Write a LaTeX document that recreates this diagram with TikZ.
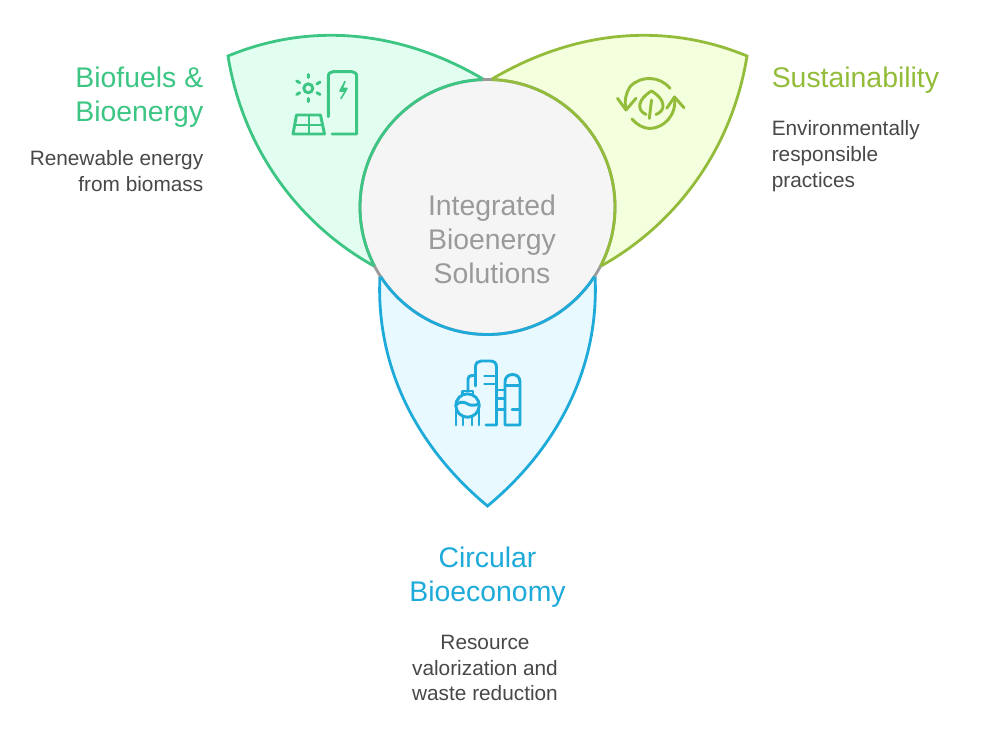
\documentclass[tikz,border=0pt]{standalone}
\usepackage{fontspec}
\setmainfont{Liberation Sans}
\definecolor{gs}{HTML}{3CC583}\definecolor{gf}{HTML}{E2FEF0}
\definecolor{ys}{HTML}{92BC39}\definecolor{yf}{HTML}{F4FFDE}
\definecolor{bs}{HTML}{1EABDA}\definecolor{bf}{HTML}{E8F9FF}
\definecolor{cs}{HTML}{9A9A9A}\definecolor{cf}{HTML}{F5F5F5}
\definecolor{dt}{HTML}{484848}
\tikzset{
 petal/.style={line width=2.1pt,line join=miter},
 icon/.style={line width=2.2pt,line cap=round,line join=round},
 ttl/.style={inner sep=0pt,font=\fontsize{21.3}{25.5}\selectfont},
 dsc/.style={inner sep=0pt,text=dt,font=\fontsize{15.6}{19.2}\selectfont},
}
\begin{document}
\begin{tikzpicture}[x=0.75pt,y=-0.75pt]
\useasboundingbox (0,0) rectangle (984,739);
\fill[white] (0,0) rectangle (984,739);
% petals
\draw[petal,draw=gs,fill=gf] (228,56) .. controls (310,22) and (400,30) .. (483,79) -- (400,170) -- (374,266) .. controls (300,225) and (243,150) .. (228,56) -- cycle;
\draw[petal,draw=ys,fill=yf] (747,56) .. controls (665,22) and (575,30) .. (492,79) -- (575,170) -- (601,266) .. controls (675,225) and (732,150) .. (747,56) -- cycle;
\draw[petal,draw=bs,fill=bf] (380,275) .. controls (375,370) and (420,450) .. (487.5,506) .. controls (555,450) and (600,370) .. (595,275) -- (487,300) -- cycle;
% centre
\node[circle,minimum size=191.25pt,inner sep=0pt,draw=cs,fill=cf,line width=2.1pt] (core) at (487.5,207) {};
\begin{scope}
\clip (487.5,207) -- (481.5,50) -- (340,50) -- (340,284) -- cycle;
\draw[petal,draw=gs] (487.5,207) circle[radius=127.5];
\end{scope}
\begin{scope}
\clip (487.5,207) -- (492.5,50) -- (635,50) -- (635,284) -- cycle;
\draw[petal,draw=ys] (487.5,207) circle[radius=127.5];
\end{scope}
\begin{scope}
\clip (487.5,207) -- (360,290) -- (360,350) -- (615,350) -- (615,290) -- cycle;
\draw[petal,draw=bs] (487.5,207) circle[radius=127.5];
\end{scope}
% texts
\node[ttl,text=cs,align=center,anchor=north] (coretext) at (492,194.5) {Integrated\\Bioenergy\\Solutions};
\node[ttl,text=gs,align=right,anchor=north east] (t1) at (203.5,67) {Biofuels \&\\Bioenergy};
\node[dsc,align=right,anchor=north east] (d1) at (203.5,150.5) {Renewable energy\\from biomass};
\node[ttl,text=ys,align=left,anchor=north west] (t2) at (771.5,67) {Sustainability};
\node[dsc,align=left,anchor=north west] (d2) at (771.5,120.5) {Environmentally\\responsible\\practices};
\node[ttl,text=bs,align=center,anchor=north] (t3) at (487.5,546.5) {Circular\\Bioeconomy};
\node[dsc,align=center,anchor=north] (d3) at (485,635) {Resource\\valorization and\\waste reduction};
% icon 1
\begin{scope}[icon,draw=gs]
\draw (308.3,88.3) circle[radius=4.5];
\draw (308.3,74.5)--(308.3,77.5) (308.3,98.5)--(308.3,101.7)
 (296.7,81)--(299.7,82.7) (316.9,84)--(320,82)
 (296.7,94.5)--(299.7,92.7) (316.9,92.7)--(320,94.5);
\draw (328.3,116.7)--(328.3,77) .. controls (328.3,73.5) and (330,71.7) .. (333,71.7) -- (352,71.7) .. controls (355,71.7) and (356.7,73.5) .. (356.7,77) -- (356.7,134) -- (332,134);
\draw[fill=gs,line width=1.2pt] (345,81.5)--(340,91)--(345.5,91)--(341,98.5)--(347,88.5)--(342,88.5)--cycle;
\draw (296.5,115)--(320.5,115)--(324.5,134)--(293,134)--cycle;
\draw[line width=1.6pt] (294.7,125)--(322.5,125) (308.8,115)--(308.8,134);
\end{scope}
% icon 2
\begin{scope}[icon,draw=ys]
\draw (670,88.3) .. controls (660,76) and (641,75) .. (630,86.7) .. controls (626,93) and (624,101) .. (626,109);
\draw (617.5,98.3)--(626,110)--(636,98.3);
\draw (666.7,108.3)--(674.5,97)--(684,107.7);
\draw (674.5,97) .. controls (677,115) and (664,128) .. (650,128.5) .. controls (643,128.5) and (636,124) .. (632,119);
\draw (646,114.5) .. controls (636,110) and (638,99) .. (651.5,91) .. controls (665,99) and (667,110) .. (656,114.5);
\draw (649.3,118.5)--(651.5,100);
\end{scope}
% icon 3
\begin{scope}[icon,draw=bs]
\draw (467.5,405.5) circle[radius=11.7];
\draw (456,408)--(456,425) (479,408)--(479,425) (463,416)--(463,425) (472,416)--(472,425);
\draw (462.5,394.5)--(462.5,391)--(473,391)--(473,394.5);
\draw (468,391)--(468,379) .. controls (468,376.5) and (470,375.5) .. (472,375.5) -- (475.5,375.5);
\draw (456,405) .. controls (462,399) and (467,404) .. (470,405) .. controls (473,406) and (476,405) .. (479,404);
\draw (475.5,386)--(475.5,367) .. controls (475.5,363) and (478,361) .. (481,361) -- (490.5,361) .. controls (494,361) and (496.5,363) .. (496.5,367) -- (496.5,425) -- (486,425);
\draw (484.5,376)--(495,376) (484.5,384)--(495,384);
\draw (505,425)--(505,382) .. controls (505,377) and (508.5,374.5) .. (512.5,374.5) .. controls (516.5,374.5) and (520,377) .. (520,382) -- (520,425) -- cycle;
\draw (505,385.5)--(520,385.5) (512,409.3)--(520,409.3);
\draw (496.5,390)--(505,390) (496.5,398.5)--(505,398.5) (496.5,409.3)--(505,409.3);
\end{scope}
\end{tikzpicture}
\end{document}
